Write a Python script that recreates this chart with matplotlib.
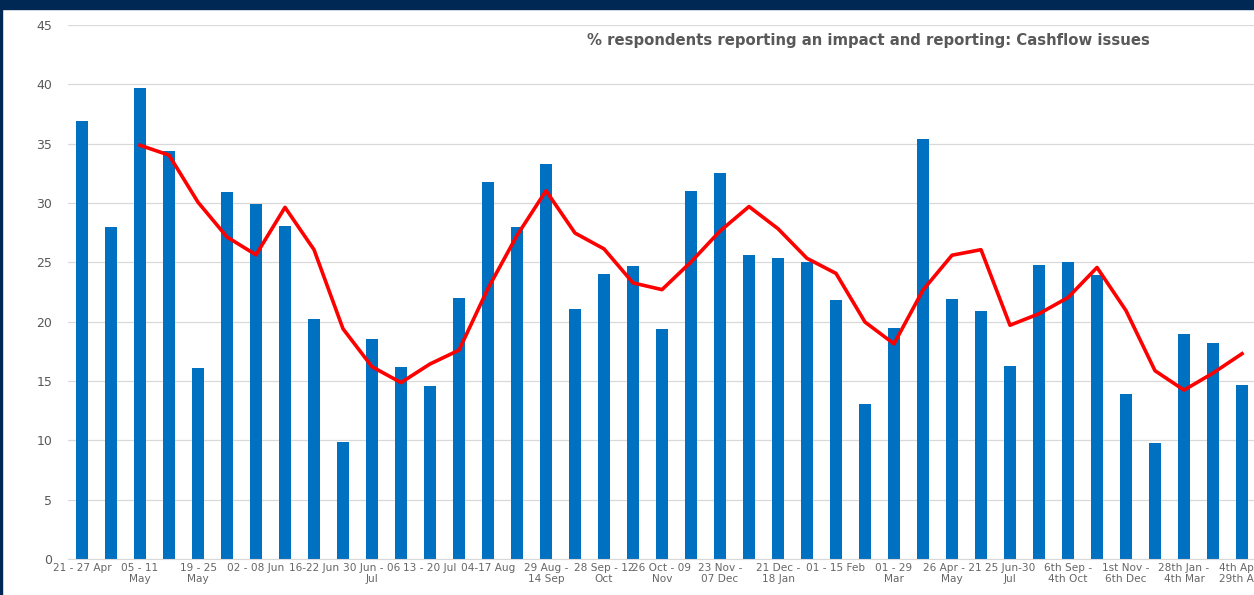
import numpy as np
import pandas as pd
import matplotlib
matplotlib.use('Agg')
import matplotlib.pyplot as plt

labels = ['21 - 27 Apr', '', '05 - 11\nMay', '', '19 - 25\nMay', '', '02 - 08 Jun', '',
          '16-22 Jun', '', '30 Jun - 06\nJul', '', '13 - 20 Jul', '', '04-17 Aug', '',
          '29 Aug -\n14 Sep', '', '28 Sep - 12\nOct', '', '26 Oct - 09\nNov', '',
          '23 Nov -\n07 Dec', '', '21 Dec -\n18 Jan', '', '01 - 15 Feb', '',
          '01 - 29\nMar', '', '26 Apr - 21\nMay', '', '25 Jun-30\nJul', '',
          '6th Sep -\n4th Oct', '', '1st Nov -\n6th Dec', '', '28th Jan -\n4th Mar', '',
          '4th Apr -\n29th Apr']

cashflow = [36.9, 28.0, 39.7, 34.4, 16.1, 30.9, 29.9, 28.1, 20.2, 9.9,
            18.5, 16.2, 14.6, 22.0, 31.8, 28.0, 33.3, 21.1, 24.0, 24.7,
            19.4, 31.0, 32.5, 25.6, 25.4, 25.0, 21.8, 13.1, 19.5, 35.4,
            21.9, 20.9, 16.3, 24.8, 25.0, 23.9, 13.9, 9.8, 19.0, 18.2, 14.7]

# 3 period moving average trendline
trend = pd.Series(cashflow).rolling(3).mean()

W, H = 1254, 595
fig = plt.figure(figsize=(W/100, H/100), dpi=100)
fig.patch.set_facecolor('white')

# navy frame at top and left
fig.patches.append(plt.Rectangle((0, 1-9/H), 1, 9/H, transform=fig.transFigure,
                                 color='#002855', zorder=0))
fig.patches.append(plt.Rectangle((0, 0), 2/W, 1, transform=fig.transFigure,
                                 color='#002855', zorder=0))

left, right, bottom, top = 67.5, 1256.5, 559, 25
ax = fig.add_axes([left/W, 1-bottom/H, (right-left)/W, (bottom-top)/H])

x = np.arange(len(cashflow))
ax.bar(x, cashflow, width=0.38, color='#0070C0', zorder=2)
ax.plot(x, trend, color='#FF0000', lw=2.6, zorder=3)

ax.set_xlim(-0.5, len(cashflow)-0.5)
ax.set_ylim(0, 45)
ax.set_yticks(range(0, 50, 5))
ax.set_xticks(x)
ax.set_xticklabels(labels, fontsize=7.6, color='#666666', linespacing=1.05)
ax.tick_params(axis='y', labelsize=9, labelcolor='#595959', length=0, pad=11)
ax.tick_params(axis='x', length=0, pad=3)
ax.grid(axis='y', color='#D9D9D9', lw=0.9, zorder=0)
for s in ['top', 'right', 'left']:
    ax.spines[s].set_visible(False)
ax.spines['bottom'].set_color('#D9D9D9')

ax.text(868/W, 1-40/H, '% respondents reporting an impact and reporting: Cashflow issues',
        transform=fig.transFigure, ha='center', va='center', fontsize=10.7,
        fontweight='bold', color='#595959')

fig.savefig('out.png', dpi=100)
